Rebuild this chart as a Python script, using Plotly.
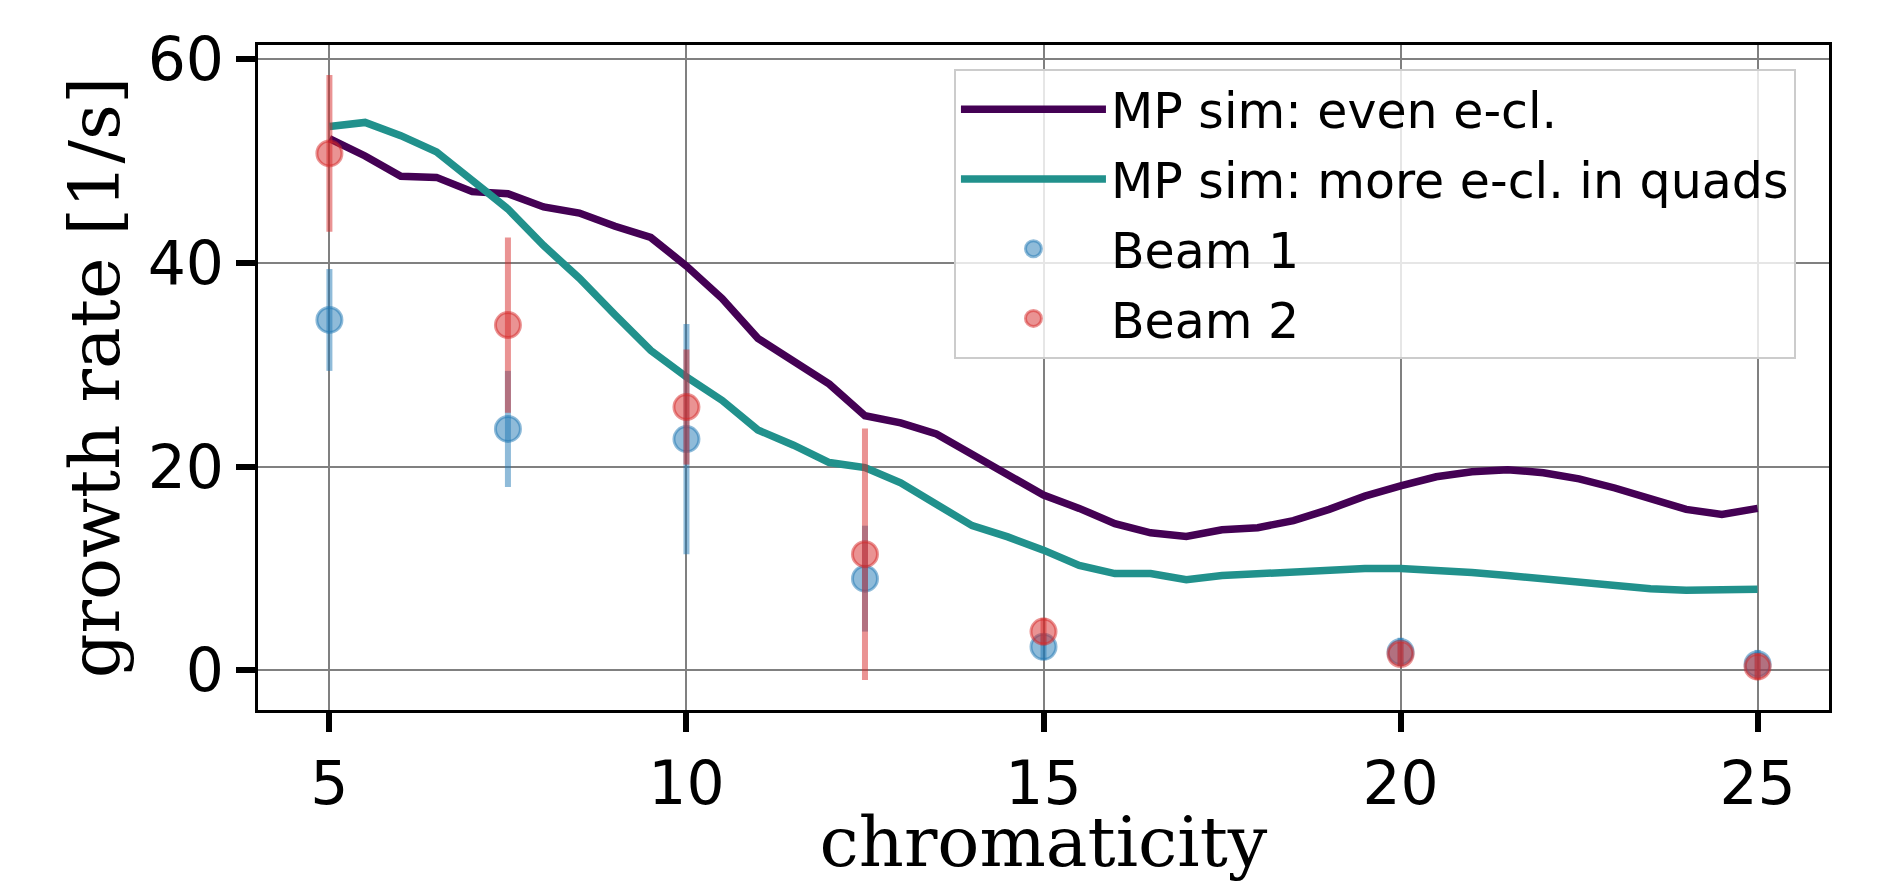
import plotly.graph_objects as go

# Simulation curves
chroma_sim = [5, 5.5, 6, 6.5, 7, 7.5, 8, 8.5, 9, 9.5, 10, 10.5, 11, 11.5, 12, 12.5,
              13, 13.5, 14, 14.5, 15, 15.5, 16, 16.5, 17, 17.5, 18, 18.5, 19, 19.5,
              20, 20.5, 21, 21.5, 22, 22.5, 23, 23.5, 24, 24.5, 25]
sim_even = [52.2, 50.5, 48.5, 48.4, 47.0, 46.8, 45.5, 44.9, 43.6, 42.5, 39.7, 36.5,
            32.6, 30.4, 28.1, 25.0, 24.3, 23.2, 21.1, 19.2, 17.2, 15.9, 14.4, 13.5,
            13.15, 13.8, 14.0, 14.7, 15.8, 17.1, 18.1, 19.0, 19.5, 19.7, 19.4, 18.8,
            17.9, 16.8, 15.8, 15.3, 15.9]
sim_quads = [53.4, 53.8, 52.5, 50.9, 48.1, 45.3, 41.7, 38.5, 34.9, 31.4, 28.8, 26.5,
             23.6, 22.1, 20.4, 19.9, 18.4, 16.3, 14.2, 13.1, 11.8, 10.3, 9.5, 9.5,
             8.9, 9.3, 9.5, 9.7, 9.75, 10.0, 10.0, 9.85, 9.6, 9.3, 8.95, 8.55, 8.25,
             8.0, 7.85, 7.85, 7.95]

# Measurements
chroma_meas = [5, 7.5, 10, 12.5, 15, 20, 25]
beam1 = [34.4, 23.7, 22.7, 9.0, 2.3, 1.8, 0.6]
beam1_err = [5.0, 5.7, 11.3, 5.2, 1.3, 1.4, 1.4]
beam2 = [50.75, 33.9, 25.85, 11.4, 3.8, 1.6, 0.35]
beam2_err = [7.7, 8.6, 5.65, 12.35, 1.35, 1.15, 1.3]

names = ["MP sim: even e-cl.", "MP sim: more e-cl. in quads", "Beam 1", "Beam 2"]

fig = go.Figure()
fig.add_trace(go.Scatter(x=chroma_sim, y=sim_even, mode="lines", name=names[0],
                         line=dict(color="#440154", width=7.5), legendgroup="a"))
fig.add_trace(go.Scatter(x=chroma_sim, y=sim_quads, mode="lines", name=names[1],
                         line=dict(color="#21918c", width=7.5), legendgroup="b"))
fig.add_trace(go.Scatter(x=chroma_meas, y=beam1, mode="markers", name=names[2],
                         marker=dict(size=25, color="rgba(31,119,180,0.5)",
                                     line=dict(color="rgba(31,119,180,0.5)", width=3)),
                         error_y=dict(type="data", array=beam1_err, width=0, thickness=6,
                                      color="rgba(31,119,180,0.5)"),
                         legendgroup="c"))
fig.add_trace(go.Scatter(x=chroma_meas, y=beam2, mode="markers", name=names[3],
                         marker=dict(size=25, color="rgba(214,39,40,0.5)",
                                     line=dict(color="rgba(214,39,40,0.5)", width=3)),
                         error_y=dict(type="data", array=beam2_err, width=0, thickness=6,
                                      color="rgba(214,39,40,0.5)"),
                         legendgroup="d"))

axis_common = dict(showline=True, linecolor="black", linewidth=3, mirror=True,
                   ticks="outside", ticklen=19, tickwidth=6, tickcolor="black",
                   showgrid=True, gridcolor="#808080", gridwidth=1.5, zeroline=False,
                   automargin=False,
                   tickfont=dict(family="DejaVu Sans", size=60, color="black"))

fig.update_xaxes(range=[4, 26], tickvals=[5, 10, 15, 20, 25],
                 title=dict(text="chromaticity", standoff=5,
                            font=dict(family="DejaVu Serif", size=70, color="black")),
                 **axis_common)
fig.update_yaxes(range=[-3.9, 61.4], tickvals=[0, 20, 40, 60],
                 title=dict(text="growth rate [1/s]", standoff=6,
                            font=dict(family="DejaVu Serif", size=70, color="black")),
                 **axis_common)

# page body has an 8px default margin, so the figure is 8px smaller
fig.update_layout(
    width=1880, height=875,
    margin=dict(l=250, r=59, t=37, b=173),
    plot_bgcolor="white", paper_bgcolor="white",
    showlegend=True,
    legend=dict(x=0.443, y=0.964, xanchor="left", yanchor="top",
                bgcolor="rgba(255,255,255,0.8)", bordercolor="#cccccc", borderwidth=2,
                font=dict(family="DejaVu Sans", size=49, color="black"),
                itemwidth=145, tracegroupgap=3),
)

fig.write_html("out.html")
